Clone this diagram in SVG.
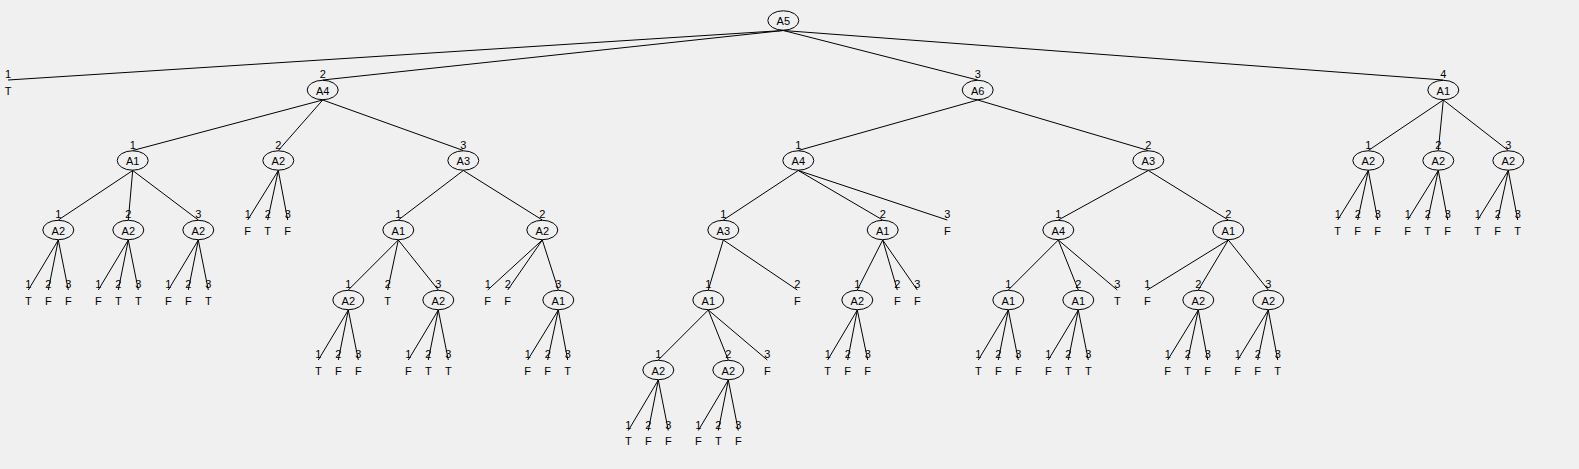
<svg xmlns="http://www.w3.org/2000/svg" width="1579" height="469" viewBox="0 0 1579 469">
<style>
text{font-family:"Liberation Sans",Arial,sans-serif;font-size:11px;text-anchor:middle;fill:#000}
ellipse{fill:none;stroke:#000;stroke-width:1}
#connectors line{stroke:#000;stroke-width:1}
</style>
<rect width="1579" height="469" fill="#f0f0f0"/>
<g id="connectors">
<line x1="783.3" y1="30.5" x2="8" y2="80"/>
<line x1="783.3" y1="30.5" x2="322.7" y2="80"/>
<line x1="783.3" y1="30.5" x2="977.7" y2="80"/>
<line x1="783.3" y1="30.5" x2="1443.3" y2="80"/>
<line x1="322.7" y1="100" x2="132.7" y2="150.5"/>
<line x1="322.7" y1="100" x2="278.3" y2="150.5"/>
<line x1="322.7" y1="100" x2="463.3" y2="150.5"/>
<line x1="977.7" y1="100" x2="798.3" y2="150.5"/>
<line x1="977.7" y1="100" x2="1148.3" y2="150.5"/>
<line x1="1443.3" y1="100" x2="1368.3" y2="150.5"/>
<line x1="1443.3" y1="100" x2="1438.3" y2="150.5"/>
<line x1="1443.3" y1="100" x2="1508.3" y2="150.5"/>
<line x1="132.7" y1="170.5" x2="58.3" y2="220"/>
<line x1="132.7" y1="170.5" x2="128.3" y2="220"/>
<line x1="132.7" y1="170.5" x2="198.3" y2="220"/>
<line x1="278.3" y1="170.5" x2="247.7" y2="220"/>
<line x1="278.3" y1="170.5" x2="267.7" y2="220"/>
<line x1="278.3" y1="170.5" x2="287.7" y2="220"/>
<line x1="463.3" y1="170.5" x2="398.3" y2="220"/>
<line x1="463.3" y1="170.5" x2="542.3" y2="220"/>
<line x1="798.3" y1="170.5" x2="723.3" y2="220"/>
<line x1="798.3" y1="170.5" x2="882.7" y2="220"/>
<line x1="798.3" y1="170.5" x2="947.3" y2="220"/>
<line x1="1148.3" y1="170.5" x2="1058.3" y2="220"/>
<line x1="1148.3" y1="170.5" x2="1228.3" y2="220"/>
<line x1="1368.3" y1="170.5" x2="1337.7" y2="220"/>
<line x1="1368.3" y1="170.5" x2="1357.7" y2="220"/>
<line x1="1368.3" y1="170.5" x2="1377.7" y2="220"/>
<line x1="1438.3" y1="170.5" x2="1407.7" y2="220"/>
<line x1="1438.3" y1="170.5" x2="1427.7" y2="220"/>
<line x1="1438.3" y1="170.5" x2="1447.7" y2="220"/>
<line x1="1508.3" y1="170.5" x2="1477.7" y2="220"/>
<line x1="1508.3" y1="170.5" x2="1497.7" y2="220"/>
<line x1="1508.3" y1="170.5" x2="1517.7" y2="220"/>
<line x1="58.3" y1="240" x2="28.3" y2="290"/>
<line x1="58.3" y1="240" x2="48.3" y2="290"/>
<line x1="58.3" y1="240" x2="68.3" y2="290"/>
<line x1="128.3" y1="240" x2="98.3" y2="290"/>
<line x1="128.3" y1="240" x2="118.3" y2="290"/>
<line x1="128.3" y1="240" x2="138.3" y2="290"/>
<line x1="198.3" y1="240" x2="168.3" y2="290"/>
<line x1="198.3" y1="240" x2="188.3" y2="290"/>
<line x1="198.3" y1="240" x2="208.3" y2="290"/>
<line x1="398.3" y1="240" x2="348.3" y2="290"/>
<line x1="398.3" y1="240" x2="387.7" y2="290"/>
<line x1="398.3" y1="240" x2="438.3" y2="290"/>
<line x1="542.3" y1="240" x2="487.7" y2="290"/>
<line x1="542.3" y1="240" x2="507.7" y2="290"/>
<line x1="542.3" y1="240" x2="558.3" y2="290"/>
<line x1="723.3" y1="240" x2="708.3" y2="290"/>
<line x1="723.3" y1="240" x2="797.3" y2="290"/>
<line x1="882.7" y1="240" x2="857.3" y2="290"/>
<line x1="882.7" y1="240" x2="897.3" y2="290"/>
<line x1="882.7" y1="240" x2="917.3" y2="290"/>
<line x1="1058.3" y1="240" x2="1008.3" y2="290"/>
<line x1="1058.3" y1="240" x2="1078.3" y2="290"/>
<line x1="1058.3" y1="240" x2="1117.3" y2="290"/>
<line x1="1228.3" y1="240" x2="1147.3" y2="290"/>
<line x1="1228.3" y1="240" x2="1198.3" y2="290"/>
<line x1="1228.3" y1="240" x2="1268.3" y2="290"/>
<line x1="348.3" y1="310" x2="318.3" y2="360"/>
<line x1="348.3" y1="310" x2="338.3" y2="360"/>
<line x1="348.3" y1="310" x2="358.3" y2="360"/>
<line x1="438.3" y1="310" x2="408.3" y2="360"/>
<line x1="438.3" y1="310" x2="428.3" y2="360"/>
<line x1="438.3" y1="310" x2="448.3" y2="360"/>
<line x1="558.3" y1="310" x2="527.7" y2="360"/>
<line x1="558.3" y1="310" x2="547.7" y2="360"/>
<line x1="558.3" y1="310" x2="567.7" y2="360"/>
<line x1="708.3" y1="310" x2="658.3" y2="360"/>
<line x1="708.3" y1="310" x2="728.3" y2="360"/>
<line x1="708.3" y1="310" x2="767.3" y2="360"/>
<line x1="857.3" y1="310" x2="827.7" y2="360"/>
<line x1="857.3" y1="310" x2="847.7" y2="360"/>
<line x1="857.3" y1="310" x2="867.7" y2="360"/>
<line x1="1008.3" y1="310" x2="978.3" y2="360"/>
<line x1="1008.3" y1="310" x2="998.3" y2="360"/>
<line x1="1008.3" y1="310" x2="1018.3" y2="360"/>
<line x1="1078.3" y1="310" x2="1048.3" y2="360"/>
<line x1="1078.3" y1="310" x2="1068.3" y2="360"/>
<line x1="1078.3" y1="310" x2="1088.3" y2="360"/>
<line x1="1198.3" y1="310" x2="1167.7" y2="360"/>
<line x1="1198.3" y1="310" x2="1187.7" y2="360"/>
<line x1="1198.3" y1="310" x2="1207.7" y2="360"/>
<line x1="1268.3" y1="310" x2="1237.7" y2="360"/>
<line x1="1268.3" y1="310" x2="1257.7" y2="360"/>
<line x1="1268.3" y1="310" x2="1277.7" y2="360"/>
<line x1="658.3" y1="380" x2="628.3" y2="430.5"/>
<line x1="658.3" y1="380" x2="648.3" y2="430.5"/>
<line x1="658.3" y1="380" x2="668.3" y2="430.5"/>
<line x1="728.3" y1="380" x2="698.3" y2="430.5"/>
<line x1="728.3" y1="380" x2="718.3" y2="430.5"/>
<line x1="728.3" y1="380" x2="738.3" y2="430.5"/>
</g>
<g id="edge-labels">
<text x="8" y="78">1</text><text x="322.7" y="78">2</text><text x="977.7" y="78">3</text><text x="1443.3" y="78">4</text>
<text x="132.7" y="148.5">1</text><text x="278.3" y="148.5">2</text><text x="463.3" y="148.5">3</text>
<text x="798.3" y="148.5">1</text><text x="1148.3" y="148.5">2</text>
<text x="1368.3" y="148.5">1</text><text x="1438.3" y="148.5">2</text><text x="1508.3" y="148.5">3</text>
<text x="58.3" y="218">1</text><text x="128.3" y="218">2</text><text x="198.3" y="218">3</text>
<text x="247.7" y="218">1</text><text x="267.7" y="218">2</text><text x="287.7" y="218">3</text>
<text x="398.3" y="218">1</text><text x="542.3" y="218">2</text>
<text x="723.3" y="218">1</text><text x="882.7" y="218">2</text><text x="947.3" y="218">3</text>
<text x="1058.3" y="218">1</text><text x="1228.3" y="218">2</text>
<text x="1337.7" y="218">1</text><text x="1357.7" y="218">2</text><text x="1377.7" y="218">3</text>
<text x="1407.7" y="218">1</text><text x="1427.7" y="218">2</text><text x="1447.7" y="218">3</text>
<text x="1477.7" y="218">1</text><text x="1497.7" y="218">2</text><text x="1517.7" y="218">3</text>
<text x="28.3" y="288">1</text><text x="48.3" y="288">2</text><text x="68.3" y="288">3</text>
<text x="98.3" y="288">1</text><text x="118.3" y="288">2</text><text x="138.3" y="288">3</text>
<text x="168.3" y="288">1</text><text x="188.3" y="288">2</text><text x="208.3" y="288">3</text>
<text x="348.3" y="288">1</text><text x="387.7" y="288">2</text><text x="438.3" y="288">3</text>
<text x="487.7" y="288">1</text><text x="507.7" y="288">2</text><text x="558.3" y="288">3</text>
<text x="708.3" y="288">1</text><text x="797.3" y="288">2</text>
<text x="857.3" y="288">1</text><text x="897.3" y="288">2</text><text x="917.3" y="288">3</text>
<text x="1008.3" y="288">1</text><text x="1078.3" y="288">2</text><text x="1117.3" y="288">3</text>
<text x="1147.3" y="288">1</text><text x="1198.3" y="288">2</text><text x="1268.3" y="288">3</text>
<text x="318.3" y="358">1</text><text x="338.3" y="358">2</text><text x="358.3" y="358">3</text>
<text x="408.3" y="358">1</text><text x="428.3" y="358">2</text><text x="448.3" y="358">3</text>
<text x="527.7" y="358">1</text><text x="547.7" y="358">2</text><text x="567.7" y="358">3</text>
<text x="658.3" y="358">1</text><text x="728.3" y="358">2</text><text x="767.3" y="358">3</text>
<text x="827.7" y="358">1</text><text x="847.7" y="358">2</text><text x="867.7" y="358">3</text>
<text x="978.3" y="358">1</text><text x="998.3" y="358">2</text><text x="1018.3" y="358">3</text>
<text x="1048.3" y="358">1</text><text x="1068.3" y="358">2</text><text x="1088.3" y="358">3</text>
<text x="1167.7" y="358">1</text><text x="1187.7" y="358">2</text><text x="1207.7" y="358">3</text>
<text x="1237.7" y="358">1</text><text x="1257.7" y="358">2</text><text x="1277.7" y="358">3</text>
<text x="628.3" y="428.5">1</text><text x="648.3" y="428.5">2</text><text x="668.3" y="428.5">3</text>
<text x="698.3" y="428.5">1</text><text x="718.3" y="428.5">2</text><text x="738.3" y="428.5">3</text>
</g>
<g id="n-root"><ellipse cx="783.3" cy="20.5" rx="15.5" ry="9.7"/><text x="783.3" y="25">A5</text></g>
<g id="n-a4"><ellipse cx="322.7" cy="90" rx="15.5" ry="9.7"/><text x="322.7" y="94.5">A4</text></g>
<g id="n-a6"><ellipse cx="977.7" cy="90" rx="15.5" ry="9.7"/><text x="977.7" y="94.5">A6</text></g>
<g id="n-a1r"><ellipse cx="1443.3" cy="90" rx="15.5" ry="9.7"/><text x="1443.3" y="94.5">A1</text></g>
<g id="n-l1"><text x="8" y="94.5">T</text></g>
<g id="n-a4-1"><ellipse cx="132.7" cy="160.5" rx="15.5" ry="9.7"/><text x="132.7" y="165">A1</text></g>
<g id="n-a4-2"><ellipse cx="278.3" cy="160.5" rx="15.5" ry="9.7"/><text x="278.3" y="165">A2</text></g>
<g id="n-a4-3"><ellipse cx="463.3" cy="160.5" rx="15.5" ry="9.7"/><text x="463.3" y="165">A3</text></g>
<g id="n-a6-1"><ellipse cx="798.3" cy="160.5" rx="15.5" ry="9.7"/><text x="798.3" y="165">A4</text></g>
<g id="n-a6-2"><ellipse cx="1148.3" cy="160.5" rx="15.5" ry="9.7"/><text x="1148.3" y="165">A3</text></g>
<g id="n-a1r-1"><ellipse cx="1368.3" cy="160.5" rx="15.5" ry="9.7"/><text x="1368.3" y="165">A2</text></g>
<g id="n-a1r-2"><ellipse cx="1438.3" cy="160.5" rx="15.5" ry="9.7"/><text x="1438.3" y="165">A2</text></g>
<g id="n-a1r-3"><ellipse cx="1508.3" cy="160.5" rx="15.5" ry="9.7"/><text x="1508.3" y="165">A2</text></g>
<g id="n-l3-a"><ellipse cx="58.3" cy="230" rx="15.5" ry="9.7"/><text x="58.3" y="234.5">A2</text></g>
<g id="n-l3-b"><ellipse cx="128.3" cy="230" rx="15.5" ry="9.7"/><text x="128.3" y="234.5">A2</text></g>
<g id="n-l3-c"><ellipse cx="198.3" cy="230" rx="15.5" ry="9.7"/><text x="198.3" y="234.5">A2</text></g>
<g id="n-l3-d"><ellipse cx="398.3" cy="230" rx="15.5" ry="9.7"/><text x="398.3" y="234.5">A1</text></g>
<g id="n-l3-e"><ellipse cx="542.3" cy="230" rx="15.5" ry="9.7"/><text x="542.3" y="234.5">A2</text></g>
<g id="n-l3-f"><ellipse cx="723.3" cy="230" rx="15.5" ry="9.7"/><text x="723.3" y="234.5">A3</text></g>
<g id="n-l3-g"><ellipse cx="882.7" cy="230" rx="15.5" ry="9.7"/><text x="882.7" y="234.5">A1</text></g>
<g id="n-l3-h"><ellipse cx="1058.3" cy="230" rx="15.5" ry="9.7"/><text x="1058.3" y="234.5">A4</text></g>
<g id="n-l3-i"><ellipse cx="1228.3" cy="230" rx="15.5" ry="9.7"/><text x="1228.3" y="234.5">A1</text></g>
<g id="n-l4-a"><ellipse cx="348.3" cy="300" rx="15.5" ry="9.7"/><text x="348.3" y="304.5">A2</text></g>
<g id="n-l4-b"><ellipse cx="438.3" cy="300" rx="15.5" ry="9.7"/><text x="438.3" y="304.5">A2</text></g>
<g id="n-l4-c"><ellipse cx="558.3" cy="300" rx="15.5" ry="9.7"/><text x="558.3" y="304.5">A1</text></g>
<g id="n-l4-d"><ellipse cx="708.3" cy="300" rx="15.5" ry="9.7"/><text x="708.3" y="304.5">A1</text></g>
<g id="n-l4-e"><ellipse cx="857.3" cy="300" rx="15.5" ry="9.7"/><text x="857.3" y="304.5">A2</text></g>
<g id="n-l4-f"><ellipse cx="1008.3" cy="300" rx="15.5" ry="9.7"/><text x="1008.3" y="304.5">A1</text></g>
<g id="n-l4-g"><ellipse cx="1078.3" cy="300" rx="15.5" ry="9.7"/><text x="1078.3" y="304.5">A1</text></g>
<g id="n-l4-h"><ellipse cx="1198.3" cy="300" rx="15.5" ry="9.7"/><text x="1198.3" y="304.5">A2</text></g>
<g id="n-l4-i"><ellipse cx="1268.3" cy="300" rx="15.5" ry="9.7"/><text x="1268.3" y="304.5">A2</text></g>
<g id="n-l5-a"><ellipse cx="658.3" cy="370" rx="15.5" ry="9.7"/><text x="658.3" y="374.5">A2</text></g>
<g id="n-l5-b"><ellipse cx="728.3" cy="370" rx="15.5" ry="9.7"/><text x="728.3" y="374.5">A2</text></g>
<g id="leaves-l3">
<text x="247.7" y="234.5">F</text><text x="267.7" y="234.5">T</text><text x="287.7" y="234.5">F</text>
<text x="947.3" y="234.5">F</text>
<text x="1337.7" y="234.5">T</text><text x="1357.7" y="234.5">F</text><text x="1377.7" y="234.5">F</text>
<text x="1407.7" y="234.5">F</text><text x="1427.7" y="234.5">T</text><text x="1447.7" y="234.5">F</text>
<text x="1477.7" y="234.5">T</text><text x="1497.7" y="234.5">F</text><text x="1517.7" y="234.5">T</text>
</g>
<g id="leaves-l4">
<text x="28.3" y="304.5">T</text><text x="48.3" y="304.5">F</text><text x="68.3" y="304.5">F</text>
<text x="98.3" y="304.5">F</text><text x="118.3" y="304.5">T</text><text x="138.3" y="304.5">T</text>
<text x="168.3" y="304.5">F</text><text x="188.3" y="304.5">F</text><text x="208.3" y="304.5">T</text>
<text x="387.7" y="304.5">T</text>
<text x="487.7" y="304.5">F</text><text x="507.7" y="304.5">F</text>
<text x="797.3" y="304.5">F</text>
<text x="897.3" y="304.5">F</text><text x="917.3" y="304.5">F</text>
<text x="1117.3" y="304.5">T</text>
<text x="1147.3" y="304.5">F</text>
</g>
<g id="leaves-l5">
<text x="318.3" y="374.5">T</text><text x="338.3" y="374.5">F</text><text x="358.3" y="374.5">F</text>
<text x="408.3" y="374.5">F</text><text x="428.3" y="374.5">T</text><text x="448.3" y="374.5">T</text>
<text x="527.7" y="374.5">F</text><text x="547.7" y="374.5">F</text><text x="567.7" y="374.5">T</text>
<text x="767.3" y="374.5">F</text>
<text x="827.7" y="374.5">T</text><text x="847.7" y="374.5">F</text><text x="867.7" y="374.5">F</text>
<text x="978.3" y="374.5">T</text><text x="998.3" y="374.5">F</text><text x="1018.3" y="374.5">F</text>
<text x="1048.3" y="374.5">F</text><text x="1068.3" y="374.5">T</text><text x="1088.3" y="374.5">T</text>
<text x="1167.7" y="374.5">F</text><text x="1187.7" y="374.5">T</text><text x="1207.7" y="374.5">F</text>
<text x="1237.7" y="374.5">F</text><text x="1257.7" y="374.5">F</text><text x="1277.7" y="374.5">T</text>
</g>
<g id="leaves-l6">
<text x="628.3" y="445">T</text><text x="648.3" y="445">F</text><text x="668.3" y="445">F</text>
<text x="698.3" y="445">F</text><text x="718.3" y="445">T</text><text x="738.3" y="445">F</text>
</g>
</svg>
